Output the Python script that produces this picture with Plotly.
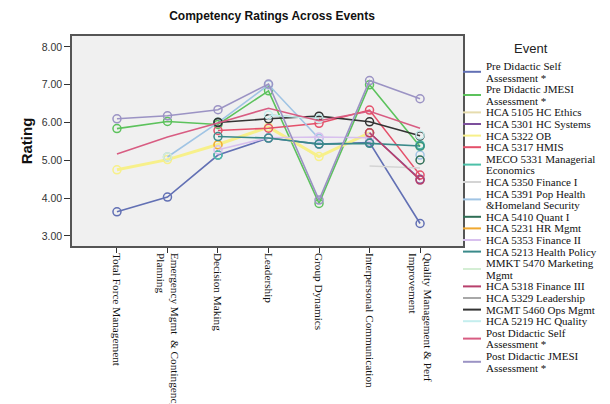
"""Competency ratings across events: SPSS-style multiple line chart."""

import plotly.graph_objects as go

# categories (x axis)
competencies = [
    "Total Force Management",
    "Emergency Mgmt  &amp; Contingency<br>Planning",
    "Decision Making",
    "Leadership",
    "Group Dynamics",
    "Interpersonal Communication",
    "Quality Management &amp; Perf<br>Improvement",
]

# series names (legend text, wrapped as in the original)
event_names = [
    "Pre Didactic Self<br>Assessment *",
    "Pre Didactic JMESI<br>Assessment *",
    "HCA 5105 HC Ethics",
    "HCA 5301 HC Systems",
    "HCA 5322 OB",
    "HCA 5317 HMIS",
    "MECO 5331 Managerial<br>Economics",
    "HCA 5350 Finance I",
    "HCA 5391 Pop Health<br>&amp;Homeland Security",
    "HCA 5410 Quant I",
    "HCA 5231 HR Mgmt",
    "HCA 5353 Finance II",
    "HCA 5213 Health Policy",
    "MMKT 5470 Marketing<br>Mgmt",
    "HCA 5318 Finance III",
    "HCA 5329 Leadership",
    "MGMT 5460 Ops Mgmt",
    "HCA 5219 HC Quality",
    "Post Didactic Self<br>Assessment *",
    "Post Didactic JMESI<br>Assessment *",
]

# mean rating per event and competency (None = no rating)
pre_self = [3.64, 4.03, 5.14, 5.59, 5.43, 5.47, 3.33]
pre_jmesi = [5.84, 6.03, 5.95, 6.84, 3.86, 7.00, 5.37]
hca_5105 = [None, None, None, 5.90, 5.08, None, None]
hca_5301 = [None, None, None, None, None, 5.73, 4.50]
hca_5322 = [4.75, 5.02, 5.42, 5.88, 5.10, 5.73, None]
hca_5317 = [None, None, 5.79, 5.85, 5.98, 6.33, 4.61]
meco_5331 = [None, None, 5.14, None, None, None, 5.41]
hca_5350 = [None, None, None, None, None, 4.85, 4.80]
hca_5391 = [None, 5.09, 6.00, 7.00, 5.58, None, 5.14]
hca_5410 = [None, None, 6.01, None, None, None, 5.01]
hca_5231 = [None, None, 5.41, None, None, 5.73, None]
hca_5353 = [None, None, 5.28, 5.60, 5.62, 5.60, None]
hca_5213 = [None, None, 5.63, 5.59, 5.43, 5.45, 5.38]
mmkt_5470 = [None, 5.09, None, None, None, None, None]
hca_5318 = [None, None, None, None, None, 5.73, 4.48]
hca_5329 = [None, None, None, 6.20, 6.10, None, 4.80]
mgmt_5460 = [None, None, 6.00, 6.10, 6.17, 6.02, 5.65]
hca_5219 = [None, None, None, 6.20, 6.10, None, 5.67]
post_self = [5.17, 5.62, 5.99, 6.38, 6.05, 6.30, 5.85]
post_jmesi = [6.10, 6.18, 6.34, 7.02, 3.95, 7.11, 6.63]

series_values = [
    pre_self, pre_jmesi, hca_5105, hca_5301, hca_5322, hca_5317, meco_5331,
    hca_5350, hca_5391, hca_5410, hca_5231, hca_5353, hca_5213, mmkt_5470,
    hca_5318, hca_5329, mgmt_5460, hca_5219, post_self, post_jmesi,
]

colors = [
    "#6270b4", "#5cc25c", "#e6dcae", "#7c4f9c", "#f7f08a", "#e4506a",
    "#4cc0a8", "#d4d4d4", "#a0c4e4", "#2f6e55", "#f0a830", "#d8c0ee",
    "#3a8a8a", "#d4eed4", "#b8406c", "#a8a8a8", "#333333", "#c4eeee",
    "#d85c82", "#9b93c4",
]
with_markers = [
    True, True, False, True, True, True, True, False, True, True,
    True, True, True, True, True, False, True, True, False, True,
]

SERIF = "Liberation Serif, Times New Roman, serif"
SANS = "Liberation Sans, Arial, sans-serif"

fig = go.Figure()
for name, vals, col, mk in zip(event_names, series_values, colors, with_markers):
    fig.add_trace(
        go.Scatter(
            x=competencies,
            y=vals,
            name=name.replace("<br>", " "),
            mode="lines+markers" if mk else "lines",
            line=dict(color=col, width=3 if col == "#f7f08a" else 1.6),
            marker=dict(symbol="circle-open", size=8, color=col,
                        line=dict(width=1.5, color=col)),
            connectgaps=False,
            showlegend=False,
        )
    )

# the page body adds an 8px margin, so the figure is laid out 8px up/left
W, H = 602, 396
PLOT_L, PLOT_R, PLOT_T, PLOT_B = 64, 455, 28, 238


def px_to_paper_x(px):
    return (px - PLOT_L) / (PLOT_R - PLOT_L)


def px_to_paper_y(py):
    return (PLOT_B - py) / (PLOT_B - PLOT_T)


# hand-built legend (SPSS style, tight serif lines)
fig.add_annotation(
    text="Event", xref="paper", yref="paper",
    x=px_to_paper_x(523), y=px_to_paper_y(40),
    showarrow=False, xanchor="center", yanchor="middle",
    font=dict(family=SANS, size=13, color="#222"),
)
line_step = 11.6
row = 0
for name, col in zip(event_names, colors):
    parts = name.split("<br>")
    first_y = 58 + row * line_step
    center_y = first_y + (len(parts) - 1) * line_step / 2
    fig.add_shape(
        type="line", xref="paper", yref="paper",
        x0=px_to_paper_x(455), x1=px_to_paper_x(473),
        y0=px_to_paper_y(center_y), y1=px_to_paper_y(center_y),
        line=dict(color=col, width=2),
    )
    for k, part in enumerate(parts):
        fig.add_annotation(
            text=part, xref="paper", yref="paper",
            x=px_to_paper_x(476), y=px_to_paper_y(first_y + k * line_step),
            showarrow=False, xanchor="left", yanchor="middle",
            font=dict(family=SERIF, size=11, color="#111"),
        )
    row += len(parts)

fig.update_layout(
    width=W,
    height=H,
    title=dict(
        text="<b>Competency Ratings Across Events</b>",
        font=dict(family=SANS, size=12, color="#111"),
        x=px_to_paper_x(264), xref="paper", xanchor="center",
        y=1 - 8 / H, yanchor="middle",
    ),
    margin=dict(l=PLOT_L, r=W - PLOT_R, t=PLOT_T, b=H - PLOT_B),
    paper_bgcolor="white",
    plot_bgcolor="#f0f0f0",
    showlegend=False,
)
fig.update_xaxes(
    type="category",
    range=[-0.89, 6.85],
    showgrid=False,
    zeroline=False,
    showline=True, linecolor="#555", linewidth=1.5, mirror=True,
    ticks="outside", ticklen=5, tickcolor="#333",
    tickangle=90,
    ticklabelstandoff=-2,
    tickfont=dict(family=SERIF, size=11.25, color="#111"),
    automargin=False,
)
fig.update_yaxes(
    range=[2.735, 8.29],
    tickvals=[3, 4, 5, 6, 7, 8],
    tickformat=".2f",
    showgrid=False,
    zeroline=False,
    showline=True, linecolor="#555", linewidth=1.5, mirror=True,
    ticks="outside", ticklen=6, tickcolor="#333",
    tickfont=dict(family=SANS, size=10.5, color="#333"),
    title=dict(text="<b>Rating</b>", font=dict(family=SANS, size=15, color="#111"),
               standoff=5),
    automargin=False,
)

fig.write_html("out.html")
